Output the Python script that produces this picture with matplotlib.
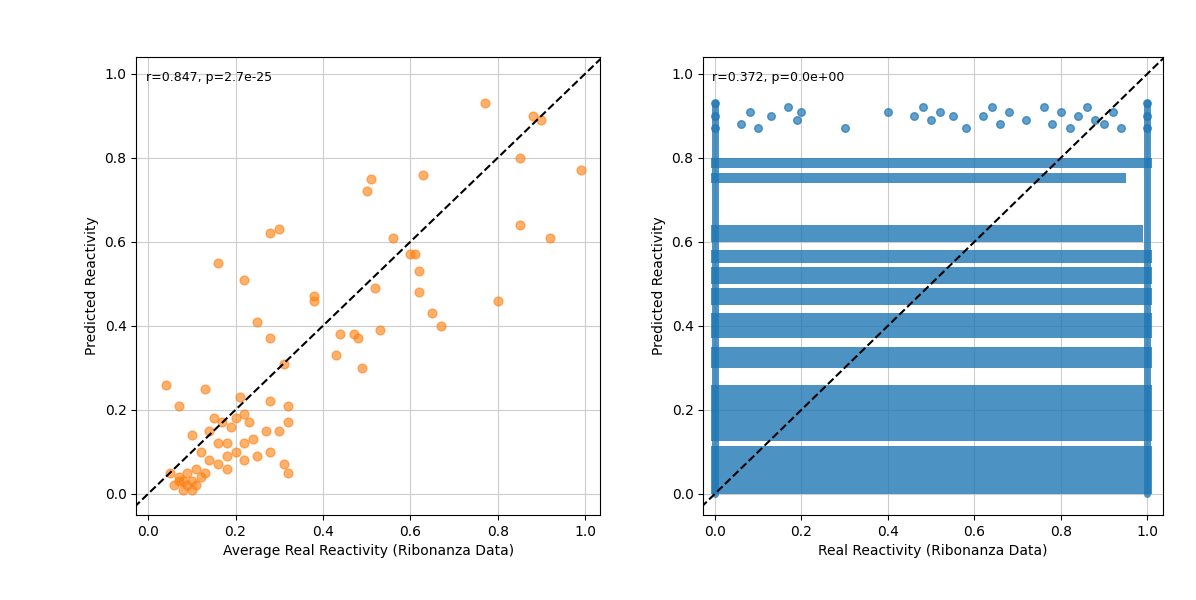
import matplotlib
matplotlib.use("Agg")
import matplotlib.pyplot as plt

# Left panel: average real vs predicted
avg_real = [0.77,0.88,0.90,0.85,0.99,0.51,0.50,0.63,0.85,0.92,0.28,0.30,0.56,0.60,0.61,0.62,0.16,0.22,0.38,0.38,0.62,0.52,0.80,0.25,0.65,0.67,0.28,0.53,0.44,0.47,0.48,0.43,0.49,0.31,0.04,0.13,0.07,0.21,0.28,0.22,0.32,0.32,0.15,0.17,0.19,0.20,0.23,0.27,0.30,0.24,0.10,0.14,0.16,0.18,0.22,0.12,0.18,0.20,0.22,0.25,0.28,0.14,0.16,0.18,0.31,0.32,0.05,0.07,0.08,0.09,0.10,0.11,0.08,0.10,0.12,0.06,0.09,0.11,0.07,0.13]
avg_pred = [0.93,0.90,0.89,0.80,0.77,0.75,0.72,0.76,0.64,0.61,0.62,0.63,0.61,0.57,0.57,0.53,0.55,0.51,0.47,0.46,0.48,0.49,0.46,0.41,0.43,0.40,0.37,0.39,0.38,0.38,0.37,0.33,0.30,0.31,0.26,0.25,0.21,0.23,0.22,0.19,0.21,0.17,0.18,0.17,0.16,0.18,0.17,0.15,0.15,0.13,0.14,0.15,0.12,0.12,0.12,0.10,0.09,0.10,0.08,0.09,0.10,0.08,0.07,0.06,0.07,0.05,0.05,0.04,0.03,0.02,0.03,0.02,0.01,0.01,0.04,0.02,0.05,0.06,0.03,0.05]

# Right panel: dense regions (x0, x1, y0, y1) and sparse points
block_x0 = [0.00,0.00,0.00,0.00,0.00,0.00,0.00,0.00,0.00,0.00]
block_x1 = [1.00,1.00,1.00,1.00,1.00,1.00,1.00,0.98,0.94,1.00]
block_y0 = [0.00,0.125,0.30,0.37,0.45,0.50,0.55,0.60,0.74,0.775]
block_y1 = [0.115,0.26,0.35,0.43,0.49,0.54,0.58,0.64,0.765,0.80]
top_x = [0.0,0.0,0.0,0.06,0.08,0.10,0.13,0.17,0.19,0.20,0.30,0.40,0.46,0.48,0.50,0.52,0.55,0.58,0.62,0.64,0.66,0.68,0.72,0.76,0.78,0.80,0.82,0.84,0.86,0.88,0.90,0.92,0.94,1.0,1.0,1.0]
top_y = [0.87,0.90,0.93,0.88,0.91,0.87,0.90,0.92,0.89,0.91,0.87,0.91,0.90,0.92,0.89,0.91,0.90,0.87,0.90,0.92,0.88,0.91,0.89,0.92,0.88,0.91,0.87,0.90,0.92,0.89,0.88,0.91,0.87,0.87,0.90,0.93]
edge_x = [0.0,1.0]

fig = plt.figure(figsize=(11.96,6), dpi=100)
ax1 = fig.add_axes([0.114,0.142,0.388,0.763])
ax2 = fig.add_axes([0.588,0.142,0.384,0.763])

ax1.scatter(avg_real, avg_pred, s=40, color="#ff7f0e", alpha=0.6)
ax2.bar([(a+b)/2 for a,b in zip(block_x0,block_x1)], [b-a for a,b in zip(block_y0,block_y1)],
        width=[b-a+0.02 for a,b in zip(block_x0,block_x1)], bottom=block_y0, color="#1f77b4", alpha=0.8)
ax2.scatter(top_x, top_y, s=30, color="#1f77b4", alpha=0.7)
for ex in edge_x:
    ax2.plot([ex,ex],[0,0.93], color="#1f77b4", lw=5, alpha=0.8, solid_capstyle="round")

ax1.text(0.02,0.97,"r=0.847, p=2.7e-25", transform=ax1.transAxes, va="top", fontsize=9)
ax2.text(0.02,0.97,"r=0.372, p=0.0e+00", transform=ax2.transAxes, va="top", fontsize=9)
ax1.set_xlabel("Average Real Reactivity (Ribonanza Data)")
ax2.set_xlabel("Real Reactivity (Ribonanza Data)")
for ax in (ax1, ax2):
    ax.plot([-0.05,1.05],[-0.05,1.05], "k--", lw=1.5)
    ax.set_xlim(-0.027,1.035); ax.set_ylim(-0.05,1.04)
    ax.set_ylabel("Predicted Reactivity")
    ax.grid(True, color="#cccccc")
    ax.set_axisbelow(True)
    ax.set_xticks([0,0.2,0.4,0.6,0.8,1.0]); ax.set_yticks([0,0.2,0.4,0.6,0.8,1.0])
fig.savefig("out.png")
